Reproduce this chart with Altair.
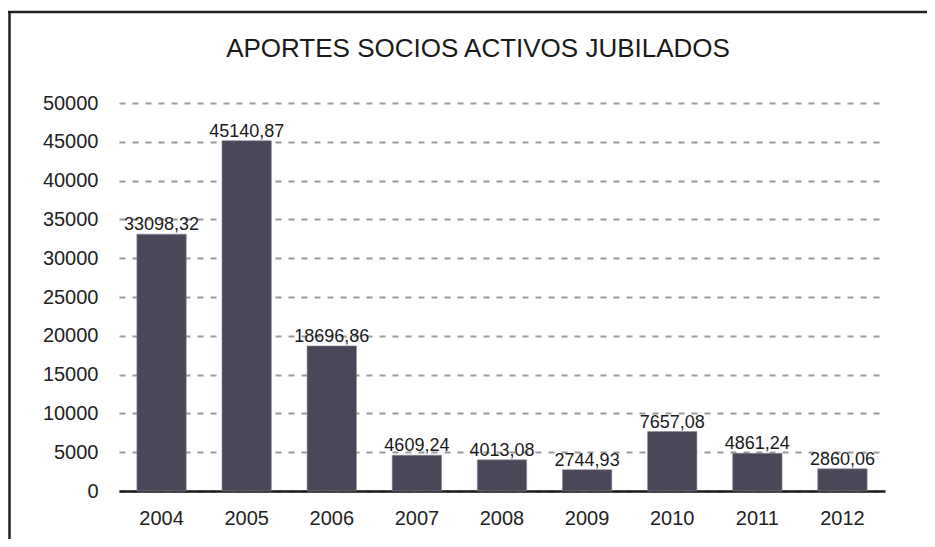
import altair as alt
import pandas as pd

years = ["2004", "2005", "2006", "2007", "2008", "2009", "2010", "2011", "2012"]
values = [33098.32, 45140.87, 18696.86, 4609.24, 4013.08, 2744.93, 7657.08, 4861.24, 2860.06]
y_ticks = [0, 5000, 10000, 15000, 20000, 25000, 30000, 35000, 40000, 45000, 50000]
title_text = "APORTES SOCIOS ACTIVOS JUBILADOS"

df = pd.DataFrame({"year": years, "value": values})

W, H = 766, 388
FONT = "Liberation Sans"
BAR = "#4b4759"

x_scale = alt.Scale(paddingInner=0.42, paddingOuter=0.21)
y_scale = alt.Scale(domain=[0, 50000], nice=False)

x_enc = alt.X("year:N", sort=years, title=None, scale=x_scale,
              axis=alt.Axis(labelAngle=0, ticks=False, domain=True, domainColor="#1a1a1a",
                            domainWidth=2.5, labelFontSize=20, labelFont=FONT,
                            labelColor="#222222", labelPadding=17, grid=False))
y_enc = alt.Y("value:Q", title=None, scale=y_scale,
              axis=alt.Axis(values=y_ticks, format="d", ticks=False, domain=False,
                            labelFontSize=20, labelFont=FONT, labelColor="#222222",
                            labelPadding=21, grid=True, gridColor="#9a9a9a",
                            gridDash=[6, 7], gridWidth=2, labelOverlap=False))

base = alt.Chart(df)
bars = base.mark_bar(color=BAR, stroke="#8a8898", strokeWidth=0.6).encode(x=x_enc, y=y_enc)
labels = base.transform_calculate(
    lbl="replace(format(datum.value, '.2f'), '.', ',')"
).mark_text(baseline="alphabetic", dy=-4, fontSize=18, font=FONT, color="#1a1a1a").encode(
    x=x_enc, y=y_enc, text="lbl:N")

one = alt.Chart(pd.DataFrame({"a": [0]}))
title = one.mark_text(fontSize=26, font=FONT, color="#1a1a1a", baseline="alphabetic",
                      align="center").encode(
    x=alt.value(478 - 119), y=alt.value(57 - 103), text=alt.value(title_text))
top_line = one.mark_rule(color="#222222", strokeWidth=2.5).encode(
    x=alt.value(8 - 119), x2=alt.value(935 - 119), y=alt.value(12 - 103))
left_line = one.mark_rule(color="#222222", strokeWidth=2.5).encode(
    x=alt.value(9.5 - 119), y=alt.value(11 - 103), y2=alt.value(547 - 103))

chart = alt.layer(bars, labels, title, top_line, left_line).properties(
    width=W, height=H,
    autosize=alt.AutoSizeParams(type="none"),
    padding={"left": 111, "top": 95, "right": 42, "bottom": 48},
    background="white",
).configure_view(stroke=None)

chart.save("out.html", embed_options={"renderer": "svg", "actions": False})
